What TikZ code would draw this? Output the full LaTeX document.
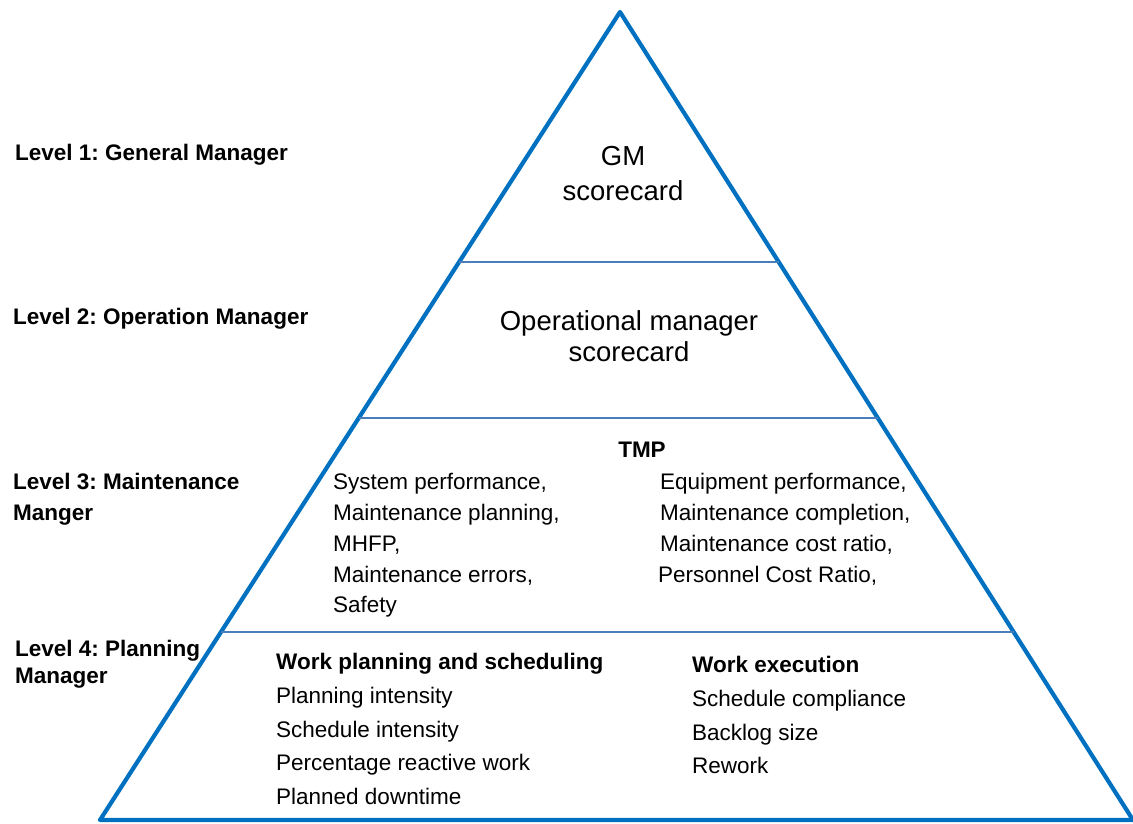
\documentclass[tikz,border=0pt]{standalone}
\usepackage{fontspec}
\setmainfont{Liberation Sans}
\usetikzlibrary{calc}
\frenchspacing
\definecolor{triblue}{HTML}{0070C0}
\definecolor{divblue}{HTML}{4A7EBB}
\begin{document}
\begin{tikzpicture}[x=1pt,y=-1pt,
  side/.style={draw=triblue,line width=4.2pt,line join=round},
  divider/.style={draw=divblue,line width=1.8pt},
  lbl/.style={anchor=base west,inner sep=0pt,font=\fontsize{22.5}{26}\selectfont\bfseries},
  body/.style={anchor=base west,inner sep=0pt,font=\fontsize{22.5}{26}\selectfont},
  head/.style={anchor=base west,inner sep=0pt,font=\fontsize{22.5}{26}\selectfont\bfseries},
  big/.style={anchor=base,inner sep=0pt,font=\fontsize{27.5}{32}\selectfont}]
\useasboundingbox (0,0) rectangle (1133,823);
\coordinate (apex) at (620,12);
\coordinate (bl) at (100,820);
\coordinate (br) at (1133,820);
\draw[side] (apex) -- (bl) -- (br) -- cycle;
\coordinate (d1l) at ($(apex)!0.3094!(bl)$);
\coordinate (d1r) at ($(apex)!0.3094!(br)$);
\coordinate (d2l) at ($(apex)!0.5025!(bl)$);
\coordinate (d2r) at ($(apex)!0.5025!(br)$);
\coordinate (d3l) at ($(apex)!0.7673!(bl)$);
\coordinate (d3r) at ($(apex)!0.7673!(br)$);
\draw[divider] (d1l) -- (d1r);
\draw[divider] (d2l) -- (d2r);
\draw[divider] (d3l) -- (d3r);
% level labels
\node[lbl] (l1) at (15,160) {Level 1: General Manager};
\node[lbl] (l2) at (13,324) {Level 2: Operation Manager};
\node[lbl] (l3a) at (13,489) {Level 3: Maintenance};
\node[lbl] (l3b) at (13,520) {Manger};
\node[lbl] (l4a) at (15,656) {Level 4: Planning};
\node[lbl] (l4b) at (15,683) {Manager};
% level 1, 2
\node[big] (gm1) at (623,165) {GM};
\node[big] (gm2) at (623,200) {scorecard};
\node[big] (om1) at (629,330) {Operational manager};
\node[big] (om2) at (629,361) {scorecard};
% level 3
\node[head,anchor=base] (tmp) at (642,457) {TMP};
\node[body] (s1) at (333,489) {System performance,};
\node[body] (s2) at (333,520) {Maintenance planning,};
\node[body] (s3) at (333,551) {MHFP,};
\node[body] (s4) at (333,582) {Maintenance errors,};
\node[body] (s5) at (333,612) {Safety};
\node[body] (e1) at (660,489) {Equipment performance,};
\node[body] (e2) at (660,520) {Maintenance completion,};
\node[body] (e3) at (660,551) {Maintenance cost ratio,};
\node[body] (e4) at (658,582) {Personnel Cost Ratio,};
% level 4
\node[head] (wp) at (276,669) {Work planning and scheduling};
\node[body] (wp1) at (276,703) {Planning intensity};
\node[body] (wp2) at (276,737) {Schedule intensity};
\node[body] (wp3) at (276,770) {Percentage reactive work};
\node[body] (wp4) at (276,804) {Planned downtime};
\node[head] (we) at (692,672) {Work execution};
\node[body] (we1) at (692,706) {Schedule compliance};
\node[body] (we2) at (692,740) {Backlog size};
\node[body] (we3) at (692,773) {Rework};
\end{tikzpicture}
\end{document}
